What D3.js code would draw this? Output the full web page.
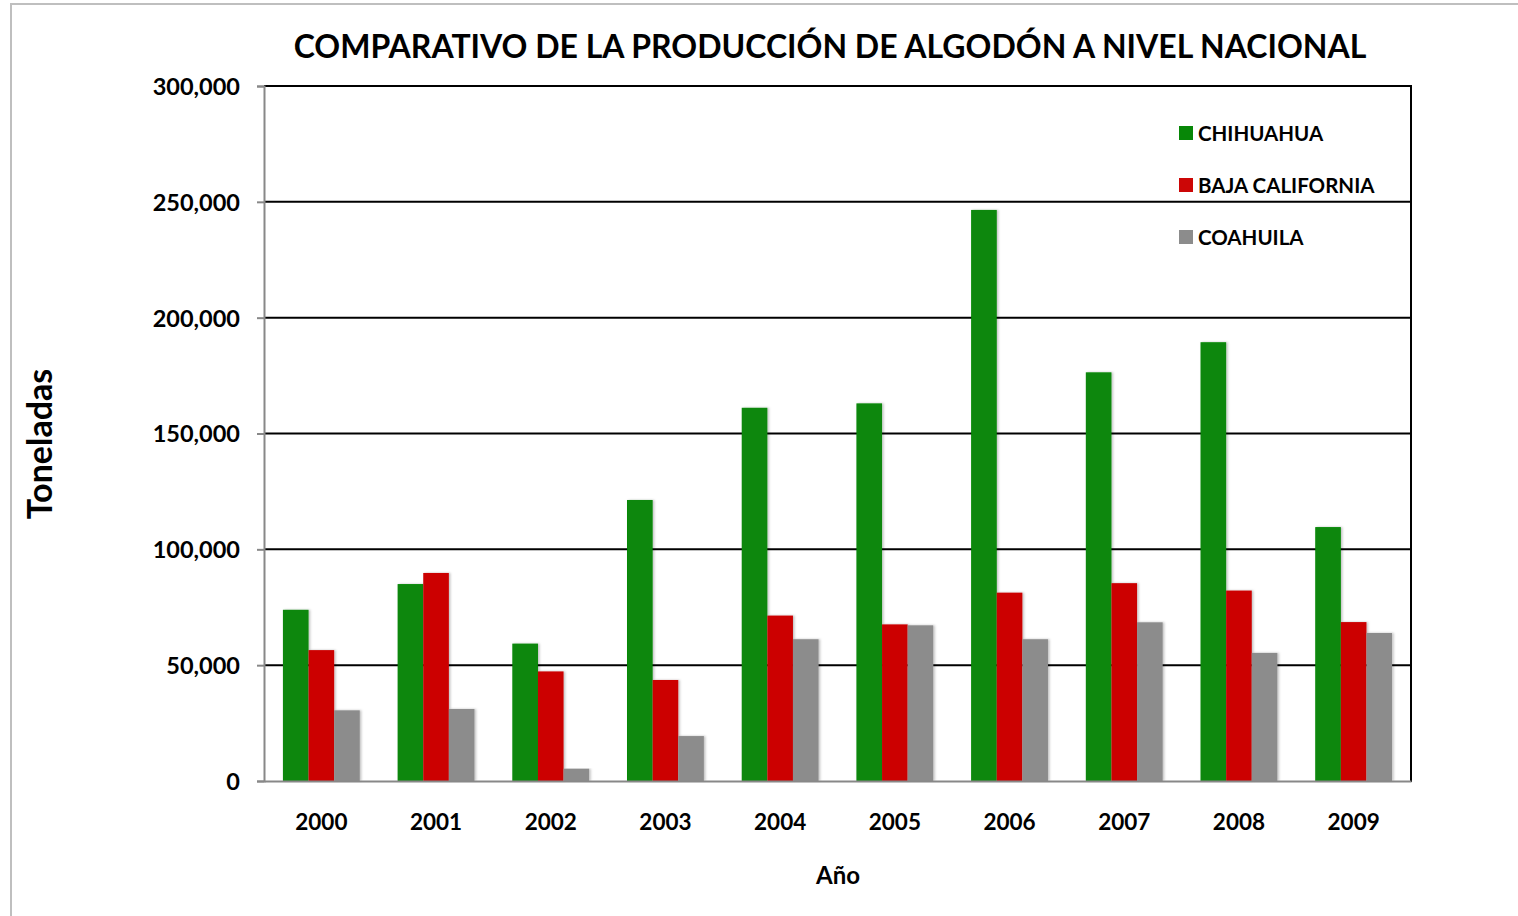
<!DOCTYPE html>
<html>
<head>
<meta charset="utf-8">
<script src="https://cdn.jsdelivr.net/npm/d3@7"></script>
<style>
  body { margin: 0; background: #fff; }
  text { font-family: Lato, "Open Sans", sans-serif; font-weight: bold; fill: #000; }
</style>
</head>
<body>
<script>
// data
const years = ["2000", "2001", "2002", "2003", "2004", "2005", "2006", "2007", "2008", "2009"];
const seriesNames = ["CHIHUAHUA", "BAJA CALIFORNIA", "COAHUILA"];
const seriesColors = ["#078707", "#cc0606", "#8c8c8c"];
const chihuahua = [73900, 85000, 59300, 121300, 161100, 163000, 246500, 176400, 189400, 109600];
const bajaCalifornia = [56500, 89800, 47300, 43600, 71400, 67600, 81300, 85400, 82200, 68600];
const coahuila = [30500, 31100, 5300, 19400, 61200, 67200, 61200, 68500, 55300, 63900];
const yTicks = [0, 50000, 100000, 150000, 200000, 250000, 300000];

const seriesValues = [chihuahua, bajaCalifornia, coahuila];

const W = 1518, H = 916;
const plot = { left: 264, right: 1411, top: 86, bottom: 781 };

const svg = d3.select("body").append("svg")
    .attr("width", W)
    .attr("height", H);

const defs = svg.append("defs");
const shadow = defs.append("filter").attr("id", "shadow")
    .attr("x", "-20%").attr("y", "-5%").attr("width", "150%").attr("height", "110%");
shadow.append("feDropShadow")
    .attr("dx", 1.5).attr("dy", 0).attr("stdDeviation", 1)
    .attr("flood-color", "#000").attr("flood-opacity", 0.25);

// outer chart border (cut off at right/bottom like the reference)
svg.append("rect")
    .attr("x", 11).attr("y", 4)
    .attr("width", 1700).attr("height", 1100)
    .attr("fill", "none")
    .attr("stroke", "#bfbfbf")
    .attr("stroke-width", 2);

const x = d3.scaleBand()
    .domain(years)
    .range([plot.left, plot.right])
    .paddingInner(0.33)
    .paddingOuter(0.165);

const xs = d3.scaleBand()
    .domain(seriesNames)
    .range([0, x.bandwidth()]);

const y = d3.scaleLinear()
    .domain([0, 300000])
    .range([plot.bottom, plot.top]);

// gridlines
svg.append("g")
    .selectAll("line")
    .data(yTicks.filter(d => d > 0))
    .join("line")
        .attr("x1", plot.left).attr("x2", plot.right)
        .attr("y1", d => y(d)).attr("y2", d => y(d))
        .attr("stroke", "#000")
        .attr("stroke-width", 2);

// right frame
svg.append("line")
    .attr("x1", plot.right).attr("x2", plot.right)
    .attr("y1", plot.top - 1).attr("y2", plot.bottom + 1)
    .attr("stroke", "#000")
    .attr("stroke-width", 2);

// bars
const groups = svg.append("g")
    .selectAll("g")
    .data(years)
    .join("g")
        .attr("transform", d => `translate(${x(d)},0)`);

groups.selectAll("rect")
    .data((yr, i) => seriesNames.map((s, k) => ({ s, k, v: seriesValues[k][i] })))
    .join("rect")
        .attr("x", d => xs(d.s))
        .attr("y", d => y(d.v))
        .attr("width", xs.bandwidth())
        .attr("height", d => y(0) - y(d.v))
        .attr("fill", d => seriesColors[d.k])
        .attr("filter", "url(#shadow)");

// y axis
const yAxis = svg.append("g")
    .attr("transform", `translate(${plot.left},0)`)
    .call(d3.axisLeft(y)
        .tickValues(yTicks)
        .tickSize(7)
        .tickPadding(17)
        .tickFormat(d3.format(",")));
yAxis.select(".domain").attr("stroke", "#888").attr("stroke-width", 2);
yAxis.selectAll(".tick line").attr("stroke", "#888").attr("stroke-width", 2);
yAxis.selectAll(".tick text").attr("font-size", 23.5).attr("dy", "0.36em");

// x axis
const xAxis = svg.append("g")
    .attr("transform", `translate(0,${plot.bottom})`)
    .call(d3.axisBottom(x).tickSize(0).tickPadding(33));
xAxis.select(".domain").attr("stroke", "#888").attr("stroke-width", 2);
xAxis.selectAll(".tick text").attr("font-size", 22.5);

// title
svg.append("text")
    .attr("x", 830).attr("y", 58)
    .attr("text-anchor", "middle")
    .attr("font-size", 32)
    .text("COMPARATIVO DE LA PRODUCCIÓN DE ALGODÓN A NIVEL NACIONAL");

// axis titles
svg.append("text")
    .attr("x", 838).attr("y", 884)
    .attr("text-anchor", "middle")
    .attr("font-size", 24)
    .text("Año");

svg.append("text")
    .attr("transform", "translate(52,444) rotate(-90)")
    .attr("text-anchor", "middle")
    .attr("font-size", 34)
    .text("Toneladas");

// legend
const legend = svg.append("g")
    .selectAll("g")
    .data(seriesNames)
    .join("g")
        .attr("transform", (d, i) => `translate(1179,${133 + i * 52})`);
legend.append("rect")
    .attr("x", 0).attr("y", -7)
    .attr("width", 14).attr("height", 14)
    .attr("fill", (d, i) => seriesColors[i]);
legend.append("text")
    .attr("x", 19).attr("y", 7.5)
    .attr("font-size", 20.5)
    .text(d => d);
</script>
</body>
</html>
